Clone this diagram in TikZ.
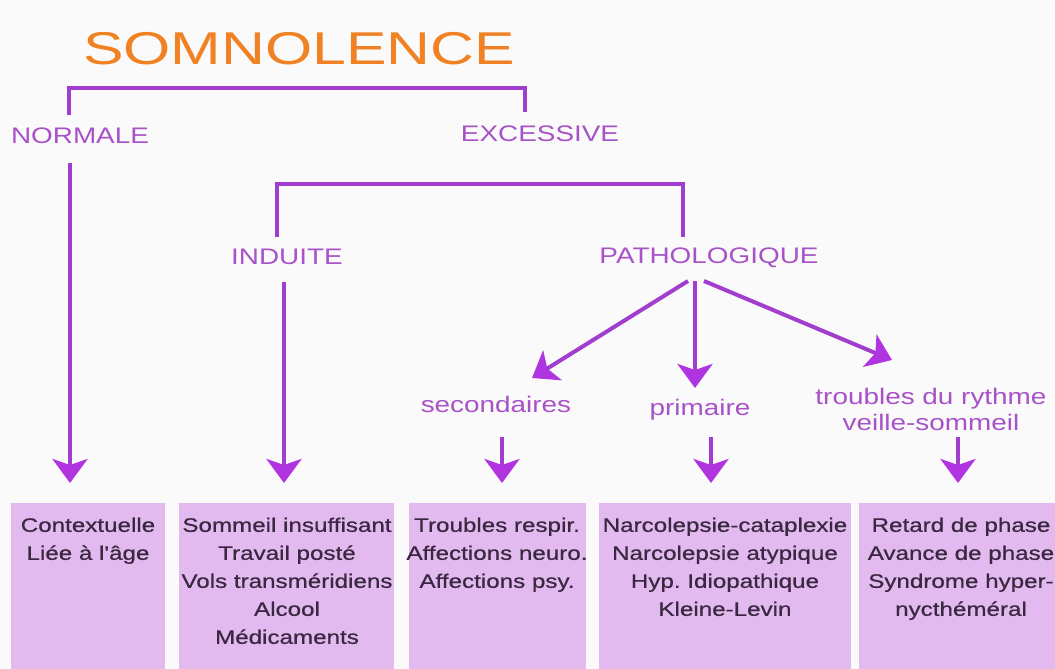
\documentclass[tikz,border=0pt]{standalone}
\usepackage{fontspec}
\setmainfont{Liberation Sans}
\newfontfamily\widefont[FakeStretch=1.24]{Liberation Sans}
\newfontfamily\boxfont[FakeStretch=1.24,FakeBold=0.6]{Liberation Sans}
\newfontfamily\titlefont[FakeStretch=1.32]{Liberation Sans}
\usetikzlibrary{arrows.meta,calc}
\frenchspacing
\definecolor{bgc}{RGB}{251,250,251}
\definecolor{lc}{RGB}{162,62,205}
\definecolor{tipc}{RGB}{176,52,224}
\definecolor{labc}{RGB}{168,82,200}
\definecolor{boxc}{RGB}{226,186,240}
\definecolor{boxtxt}{RGB}{58,40,64}
\definecolor{orangec}{RGB}{240,130,35}
\tikzset{
  titlestyle/.style={inner sep=0pt, text=orangec, font=\titlefont\fontsize{46}{50}\selectfont},
  lab/.style={inner sep=0pt, text=labc, font=\widefont\fontsize{22.5}{26}\selectfont, align=center},
  brk/.style={line width=3.5pt, draw=lc},
  arr/.style={line width=4pt, draw=lc, -{Stealth[length=24pt,width=35pt,inset=6pt,color=tipc]}},
  boxnode/.style={fill=boxc, draw=none, inner sep=0pt, anchor=north west},
  boxtext/.style={inner sep=0pt, anchor=north, text=boxtxt, align=center, font=\boxfont\fontsize{19.5}{28}\selectfont}
}
\begin{document}
\begin{tikzpicture}[x=1pt,y=-1pt]
\useasboundingbox (0,0) rectangle (1055,669);
\fill[bgc] (0,0) rectangle (1055,669);
\clip (0,0) rectangle (1055,669);

% title and labels
\node[titlestyle, anchor=base] (title) at (299,65) {SOMNOLENCE};
\node[lab, anchor=base] (normale) at (80,143) {NORMALE};
\node[lab, anchor=base] (excessive) at (540,141) {EXCESSIVE};
\node[lab, anchor=base] (induite) at (287,264) {INDUITE};
\node[lab, anchor=base] (patho) at (709,263) {PATHOLOGIQUE};
\node[lab, anchor=base] (sec) at (496,412) {secondaires};
\node[lab, anchor=base] (prim) at (700,415) {primaire};
\node[lab, anchor=north] (troub) at (931,388) {troubles du rythme\\veille-sommeil};

% boxes
\node[boxnode, minimum width=154pt, minimum height=175pt] (b1) at (11,503) {};
\node[boxnode, minimum width=215pt, minimum height=175pt] (b2) at (179,503) {};
\node[boxnode, minimum width=177pt, minimum height=175pt] (b3) at (409,503) {};
\node[boxnode, minimum width=252pt, minimum height=175pt] (b4) at (599,503) {};
\node[boxnode, minimum width=210pt, minimum height=175pt] (b5) at (859,503) {};

\node[boxtext] (t1) at (88,517.5) {Contextuelle\\Liée à l'âge};
\node[boxtext] (t2) at (287,517.5) {Sommeil insuffisant\\Travail posté\\Vols transméridiens\\Alcool\\Médicaments};
\node[boxtext] (t3) at (497,517.5) {Troubles respir.\\Affections neuro.\\Affections psy.};
\node[boxtext] (t4) at (725,517.5) {Narcolepsie-cataplexie\\Narcolepsie atypique\\Hyp. Idiopathique\\Kleine-Levin};
\node[boxtext] (t5) at (961,517.5) {Retard de phase\\Avance de phase\\Syndrome hyper-\\nycthéméral};

% brackets
\coordinate (tb) at ([yshift=-23pt]title.base);
\coordinate (nT) at ([xshift=-11pt,yshift=28pt]normale.base);
\coordinate (eT) at ([xshift=-15pt,yshift=29pt]excessive.base);
\draw[brk] (nT) |- (tb) -| (eT);

\coordinate (eb) at ([yshift=-43pt]excessive.base);
\coordinate (iT) at ([xshift=-10pt,yshift=27pt]induite.base);
\coordinate (pT) at ([xshift=-26pt,yshift=26pt]patho.base);
\draw[brk] (iT) |- (eb) -| (pT);

% arrows
\draw[arr, shorten >=20pt] ([xshift=-10pt,yshift=-20pt]normale.base) -- ([xshift=-10pt]normale.base |- b1.north);
\draw[arr, shorten >=20pt] ([xshift=-3pt,yshift=-18pt]induite.base) -- ([xshift=-3pt]induite.base |- b2.north);

\draw[arr] ([xshift=-21pt,yshift=-18pt]patho.base) -- ([xshift=36pt,yshift=34pt]sec.base);
\draw[arr] ([xshift=-14pt,yshift=-18pt]patho.base) -- ([xshift=-5pt,yshift=27pt]prim.base);
\draw[arr] ([xshift=-5pt,yshift=-18pt]patho.base) -- ([xshift=-39pt,yshift=28pt]troub.north);

\draw[arr, shorten >=20pt] ([xshift=6pt,yshift=-25pt]sec.base) -- ([xshift=6pt]sec.base |- b3.north);
\draw[arr, shorten >=20pt] ([xshift=11pt,yshift=-22pt]prim.base) -- ([xshift=11pt]prim.base |- b4.north);
\draw[arr, shorten >=20pt] ([xshift=27pt,yshift=-49pt]troub.north) -- ([xshift=27pt]troub.north |- b5.north);
\end{tikzpicture}
\end{document}
